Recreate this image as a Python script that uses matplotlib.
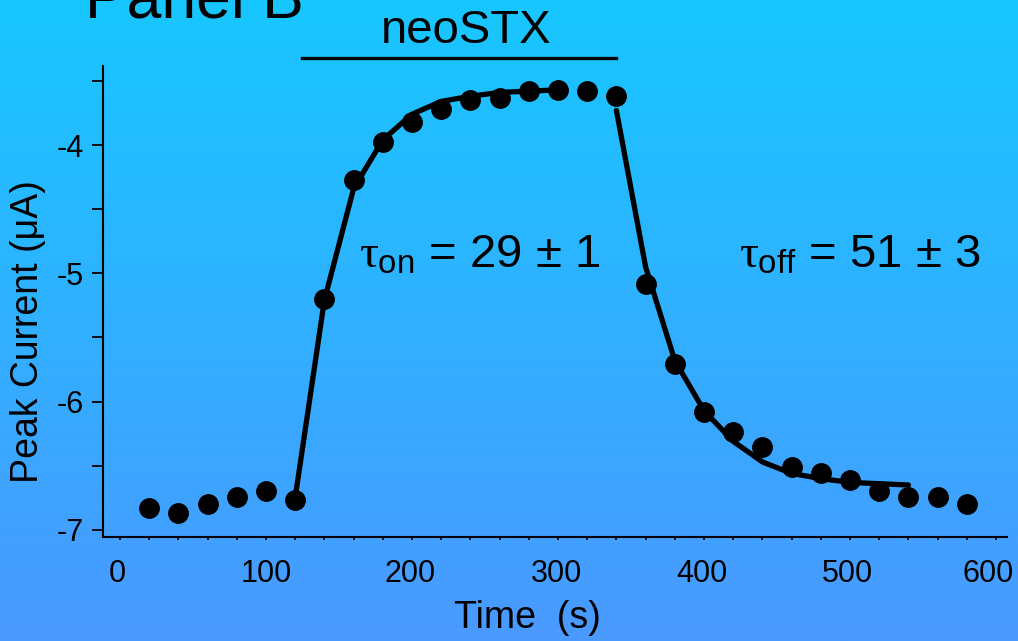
import numpy as np
import matplotlib
matplotlib.use("Agg")
import matplotlib.pyplot as plt
from matplotlib.transforms import blended_transform_factory, ScaledTranslation

plt.rcParams['font.family'] = ['Liberation Sans', 'DejaVu Sans']
plt.rcParams['mathtext.fontset'] = 'custom'
plt.rcParams['mathtext.rm'] = 'Liberation Sans'
plt.rcParams['mathtext.it'] = 'Liberation Serif'
plt.rcParams['mathtext.bf'] = 'Liberation Sans:bold'

# Data
time = [20, 40, 60, 80, 100, 120, 140, 160, 180, 200, 220, 240, 260, 280, 300,
        320, 340, 360, 380, 400, 420, 440, 460, 480, 500, 520, 540, 560, 580]
current = [-6.83, -6.87, -6.80, -6.74, -6.70, -6.77, -5.20, -4.27, -3.98, -3.82,
           -3.72, -3.65, -3.63, -3.58, -3.57, -3.58, -3.62, -5.08, -5.71, -6.08,
           -6.24, -6.35, -6.51, -6.56, -6.61, -6.70, -6.74, -6.74, -6.80]
fit_on_t = [120, 140, 160, 180, 200, 220, 240, 260, 280, 300]
fit_on_v = [-6.75, -5.21, -4.34, -3.96, -3.76, -3.66, -3.62, -3.59, -3.58, -3.57]
fit_off_t = [340, 360, 380, 400, 420, 440, 460, 480, 500, 520, 540]
fit_off_v = [-3.73, -4.95, -5.68, -6.07, -6.31, -6.47, -6.56, -6.60, -6.63, -6.64, -6.65]
drug_start, drug_end = 125, 340
xticks = [0, 100, 200, 300, 400, 500, 600]
yticks = [-7, -6, -5, -4]

fig = plt.figure(figsize=(10.18, 6.41), dpi=100)

# gradient background
bg = fig.add_axes([0, 0, 1, 1], zorder=-10)
top = np.array([0.09, 0.78, 1.0])
bot = np.array([0.29, 0.60, 1.0])
tt = np.linspace(0, 1, 256)[:, None]
grad = (top[None, :] * (1 - tt) + bot[None, :] * tt)[:, None, :]
bg.imshow(grad, aspect='auto', extent=[0, 1, 0, 1], interpolation='bilinear')
bg.axis('off')

ax = fig.add_axes([103/1018, 1-536.7/641, (1007-103)/1018, (536.7-66)/641])
ax.set_facecolor('none')
ax.plot(fit_on_t, fit_on_v, color='black', lw=3.8, solid_capstyle='round', zorder=2)
ax.plot(fit_off_t, fit_off_v, color='black', lw=3.8, solid_capstyle='round', zorder=2)
ax.plot(time, current, 'o', color='black', ms=14, zorder=3)

ax.set_xlim(-11.6, 607.5)
ax.set_ylim(-7.053, -3.384)
for s in ['top', 'right']:
    ax.spines[s].set_visible(False)
for s in ['left', 'bottom']:
    ax.spines[s].set_linewidth(1.5)

ax.set_yticks(yticks)
ax.set_yticklabels([str(v) for v in yticks])
ax.set_yticks([-6.5, -5.5, -4.5, -3.5], minor=True)
ax.tick_params(axis='y', which='both', direction='out', length=8, width=1.3,
               labelsize=22, pad=6)
ax.set_xticks(xticks)
ax.set_xticklabels([str(v) for v in xticks])
ax.set_xticks(np.arange(20, 601, 20), minor=True)
ax.tick_params(axis='x', which='both', direction='out', length=2, width=1.3,
               labelsize=22, pad=14)
# shift the tick labels slightly left as in the reference
xlabels = ax.get_xticklabels()
shifts = [-3, 0, -2, -2, -2, -3, -8]
for lab, sh in zip(xlabels, shifts):
    lab.set_transform(lab.get_transform() + ScaledTranslation(sh/100, 0, fig.dpi_scale_trans))

fig.text(527/1018, 1-618/641, 'Time  (s)', fontsize=27, ha='center', va='center')
fig.text(28/1018, 1-332/641, 'Peak Current (μA)', fontsize=27, ha='center', va='center',
         rotation=90)

ax.text(164, -4.96, r'$\tau_{\mathrm{on}}$ = 29 ± 1', fontsize=34, va='baseline', ha='left')
ax.text(424, -4.96, r'$\tau_{\mathrm{off}}$ = 51 ± 3', fontsize=34, va='baseline', ha='left')

trans = blended_transform_factory(ax.transData, fig.transFigure)
ax.plot([drug_start, drug_end], [1-58/641, 1-58/641], color='black', lw=2.4,
        transform=trans, clip_on=False)
fig.text(466/1018, 1-43/641, 'neoSTX', fontsize=34, ha='center', va='baseline')
fig.text(85/1018, 1-17/641, 'Panel B', fontsize=45, ha='left', va='baseline')

fig.savefig('out.png', dpi=100)
